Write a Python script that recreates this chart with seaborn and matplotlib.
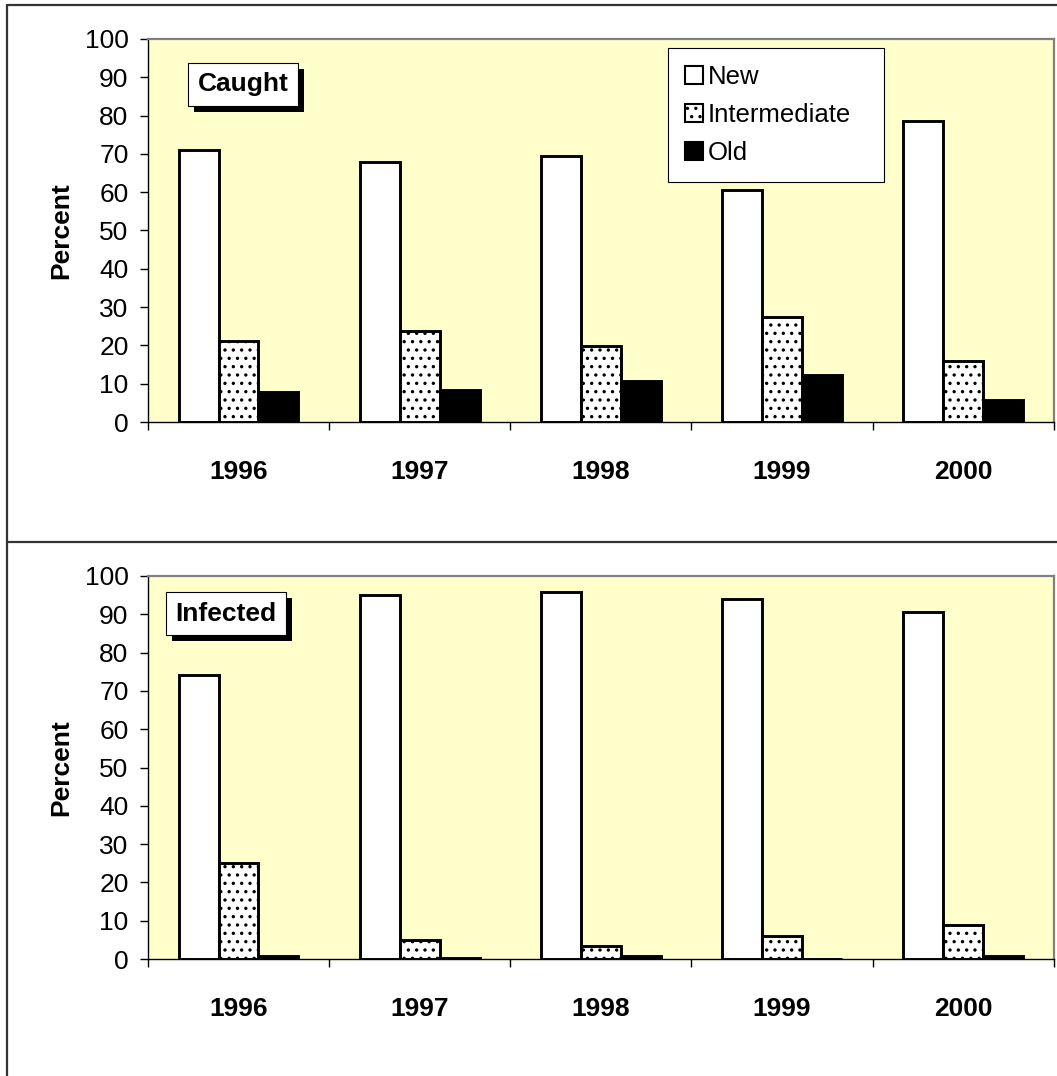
import pandas as pd
import matplotlib
matplotlib.use("Agg")
import matplotlib.pyplot as plt
import matplotlib.patheffects as pe
from matplotlib.patches import Patch
from matplotlib.lines import Line2D
import seaborn as sns

# Données
years = ["1996", "1997", "1998", "1999", "2000"]
groups = ["New", "Intermediate", "Old"]

caught_new = [71.0, 67.9, 69.5, 60.6, 78.6]
caught_intermediate = [21.2, 23.8, 19.8, 27.3, 15.8]
caught_old = [7.9, 8.3, 10.7, 12.2, 5.7]

infected_new = [74.2, 95.0, 95.9, 94.0, 90.5]
infected_intermediate = [25.1, 4.9, 3.5, 5.9, 8.8]
infected_old = [0.9, 0.4, 0.9, 0.0, 0.9]

sns.set_style("white")
plt.rcParams["font.family"] = ["Liberation Sans", "DejaVu Sans"]
plt.rcParams["hatch.linewidth"] = 1.2
for key in ["text.color", "axes.labelcolor", "xtick.color", "ytick.color"]:
    plt.rcParams[key] = "black"

FS = 19


def make_df(new, inter, old):
    return pd.DataFrame({
        "Year": years * 3,
        "Group": [groups[0]] * 5 + [groups[1]] * 5 + [groups[2]] * 5,
        "Percent": new + inter + old,
    })


def draw_panel(ax, df, title, title_xy):
    sns.barplot(data=df, x="Year", y="Percent", hue="Group", hue_order=groups,
                palette={"New": "white", "Intermediate": "white", "Old": "black"},
                edgecolor="black", linewidth=2.1, width=0.66, gap=0,
                legend=False, ax=ax, zorder=2)
    for bar in ax.containers[1]:
        bar.set_hatch("..")

    ax.set_facecolor("#FFFFCC")
    ax.set_xlim(-0.5, 4.5)
    ax.set_ylim(0, 100)
    ax.set_yticks(range(0, 101, 10))
    ax.tick_params(axis="y", which="major", length=6, width=1, direction="out",
                   left=True, labelsize=FS, pad=8)
    ax.set_xticks(range(5))
    ax.set_xticklabels(years, fontweight="bold")
    ax.set_xticks([i - 0.5 for i in range(6)], minor=True)
    ax.tick_params(axis="x", which="major", length=0, labelsize=FS, pad=27)
    ax.tick_params(axis="x", which="minor", length=6, width=1, direction="out",
                   bottom=True)
    ax.set_xlabel("")
    ax.set_ylabel("Percent", fontsize=FS, fontweight="bold")
    ax.yaxis.set_label_coords(-0.082, 0.5)

    for side in ["left", "bottom"]:
        ax.spines[side].set_color("black")
        ax.spines[side].set_linewidth(1.0)
    for side in ["top", "right"]:
        ax.spines[side].set_color("#808080")
        ax.spines[side].set_linewidth(1.6)

    t = ax.text(title_xy[0], title_xy[1], title, transform=ax.transAxes,
                ha="center", va="center", fontsize=FS, fontweight="bold",
                zorder=5,
                bbox=dict(boxstyle="square,pad=0.36", fc="white", ec="black", lw=0.8))
    t.get_bbox_patch().set_path_effects([
        pe.SimplePatchShadow(offset=(4.5, -4.5), shadow_rgbFace="black", alpha=1.0),
        pe.Normal(),
    ])


fig = plt.figure(figsize=(10.57, 10.76), dpi=100)
ax1 = fig.add_axes([0.140, 0.6078, 0.857, 0.356])
ax2 = fig.add_axes([0.140, 0.1087, 0.857, 0.356])

draw_panel(ax1, make_df(caught_new, caught_intermediate, caught_old), "Caught", (0.105, 0.882))
draw_panel(ax2, make_df(infected_new, infected_intermediate, infected_old), "Infected", (0.086, 0.902))

# Légende (panneau du haut seulement)
handles = [
    Patch(facecolor="white", edgecolor="black", linewidth=1.5),
    Patch(facecolor="white", edgecolor="black", linewidth=1.5, hatch=".."),
    Patch(facecolor="black", edgecolor="black", linewidth=1.5),
]
leg = ax1.legend(handles, groups, loc="upper left",
                 bbox_to_anchor=(0.574, 0.976, 0.238, 0.0), mode="expand",
                 fontsize=18.5, frameon=True, fancybox=False, framealpha=1,
                 edgecolor="black", handlelength=0.7, handleheight=0.7,
                 handletextpad=0.2, labelspacing=0.55, borderpad=0.65,
                 borderaxespad=0)
leg.get_frame().set_linewidth(0.8)

# Cadres des deux graphiques
frame_kw = dict(color="#333333", linewidth=1.6, transform=fig.transFigure)
fig.add_artist(Line2D([0.0066, 1.0], [0.9954, 0.9954], **frame_kw))
fig.add_artist(Line2D([0.0066, 0.0066], [0.0, 0.9954], **frame_kw))
fig.add_artist(Line2D([0.0066, 1.0], [0.4963, 0.4963], **frame_kw))

fig.savefig("out.png", dpi=100, facecolor="white")
